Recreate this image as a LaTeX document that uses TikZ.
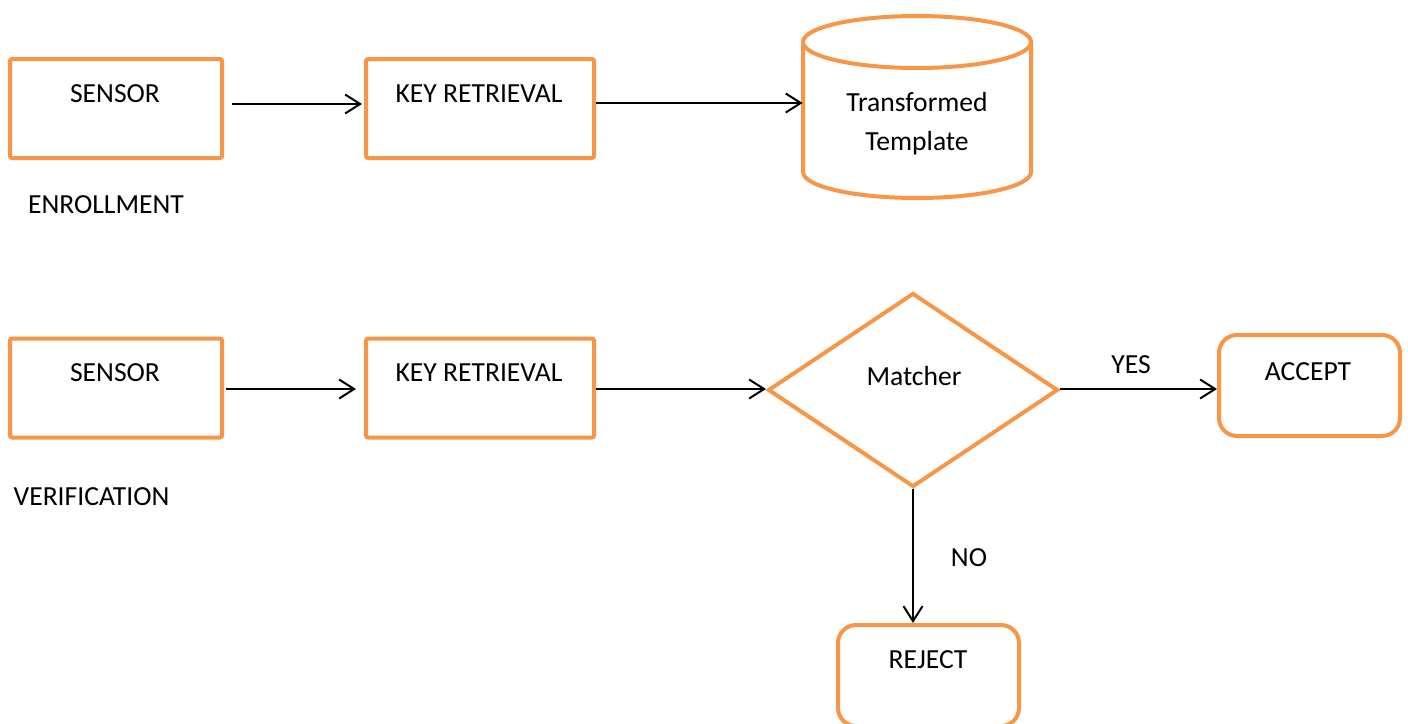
\documentclass[tikz,border=0pt]{standalone}
\usepackage{fontspec}
\setmainfont{Carlito}
\usetikzlibrary{arrows.meta,shapes.geometric}
\definecolor{boxorange}{HTML}{F79646}
\tikzset{
  x=0.5pt, y=0.5pt,
  every node/.style={font=\fontsize{13.8}{19.5}\selectfont},
  procbox/.style={draw=boxorange, line width=2pt, rounded corners=1pt,
    minimum width=#1, minimum height=49.5pt, inner sep=0pt},
  endbox/.style={draw=boxorange, line width=2pt, rounded corners=9pt,
    minimum width=90.5pt, minimum height=50.5pt, inner sep=0pt},
  decision/.style={draw=boxorange, line width=2pt, diamond, aspect=1.495,
    minimum width=145pt, minimum height=97pt, inner sep=0pt},
  txt/.style={anchor=base, inner sep=0pt},
  flow/.style={draw=black, line width=1pt,
    -{Straight Barb[length=7.5pt,width=9.5pt,line width=1pt]}},
}
\begin{document}
\begin{tikzpicture}
\useasboundingbox (0,0) rectangle (1408,-723);

% ---- enrollment row ----
\node[procbox=106pt] (s1) at (116,-108.5) {};
\node[procbox=114pt] (k1) at (480,-108.5) {};
\node[txt] (s1t) at (115,-102) {SENSOR};
\node[txt] (k1t) at (479,-102) {KEY RETRIEVAL};
\node[txt] (enr) at (106,-213) {ENROLLMENT};

% database cylinder
\node[minimum width=114pt, minimum height=91pt, inner sep=0pt] (db) at (917,-107) {};
\draw[boxorange, line width=2pt]
  (917,-42) ellipse [x radius=57pt, y radius=13pt];
\draw[boxorange, line width=2pt]
  (803,-42) -- (803,-172) arc[start angle=180, end angle=360, x radius=57pt, y radius=13pt]
  -- (1031,-42);
\node[txt] (dbt1) at (917,-111) {Transformed};
\node[txt] (dbt2) at (917,-150) {Template};

\draw[flow] ([xshift=4pt]s1.east |- 0,-104) -- ([xshift=-1pt]k1.west |- 0,-104);
\draw[flow] (k1.east |- 0,-103) -- (db.west |- 0,-103);

% ---- verification row ----
\node[procbox=106pt] (s2) at (116,-388) {};
\node[procbox=114pt] (k2) at (480,-388) {};
\node[txt] (s2t) at (115,-381) {SENSOR};
\node[txt] (k2t) at (479,-381) {KEY RETRIEVAL};
\node[txt] (ver) at (91.5,-505) {VERIFICATION};

\node[decision] (m) at (913,-390) {};
\node[txt] (mt) at (914,-385) {Matcher};

\node[endbox] (acc) at (1309.5,-385.5) {};
\node[txt] (acct) at (1308,-380) {ACCEPT};
\node[endbox] (rej) at (928.5,-675.5) {};
\node[txt] (rejt) at (928,-668) {REJECT};

\draw[flow] ([xshift=1pt]s2.east |- 0,-389) -- ([xshift=-4pt]k2.west |- 0,-389);
\draw[flow] (k2.east |- 0,-389) -- (m.west |- 0,-389);
\draw[flow] (m.east |- 0,-389) -- (acc.west |- 0,-389);
\node[txt] (yes) at (1131,-373) {YES};
\draw[flow] (m.south) -- (m.south |- rej.north);
\node[txt] (no) at (969,-566) {NO};
\end{tikzpicture}
\end{document}
